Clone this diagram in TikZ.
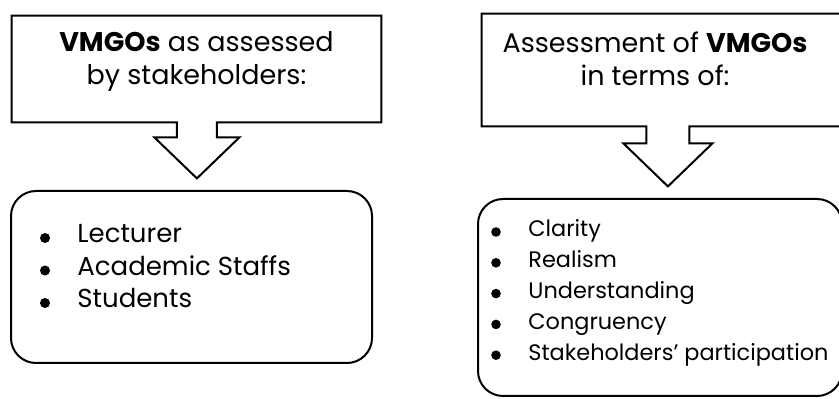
\documentclass[tikz,border=0pt]{standalone}
\usepackage{fontspec}
\setmainfont{Poppins}

\tikzset{
  outline/.style={draw=black, line width=1pt, line join=miter},
  frame/.style={inner sep=0pt},
  listbox/.style={draw=black, line width=1pt, rounded corners=12.5pt, inner sep=0pt},
  heading/.style={align=center, inner sep=0pt,
    font=\fontsize{13.5}{16.5}\selectfont},
  itemL/.style={anchor=base west, inner sep=0pt, font=\fontsize{13}{15}\selectfont},
  itemR/.style={anchor=base west, inner sep=0pt, font=\fontsize{11.2}{13}\selectfont},
}

\begin{document}
\begin{tikzpicture}[x=0.5pt, y=-0.5pt]
  \clip (0,0) rectangle (839,399);

  % stakeholders
  \node[frame, minimum width=184.5pt, minimum height=53pt] (boxL) at (196.5,69) {};
  \draw[outline] (boxL.north west) -- (boxL.north east) -- (boxL.south east)
    -- ++(-164.5,0) -- ++(0,15) -- ++(22.5,0) -- ++(-42.5,41)
    -- ++(-42.5,-41) -- ++(22.5,0) -- ++(0,-15) -- (boxL.south west) -- cycle;
  \node[heading] (headL) at (196.5,62)
    {\textbf{VMGOs} as assessed\\ by stakeholders:};
  \node[listbox, minimum width=180.5pt, minimum height=86pt] (listL) at (191.5,277) {};
  \matrix [row sep={16.25pt,between origins}, column sep={16pt,between origins},
           matrix anchor=lec.base west] at (77,243)
  {
    \fill (0,-5) circle (5); & \node[itemL] (lec) {Lecturer}; \\
    \fill (0,-5) circle (5); & \node[itemL] {Academic Staffs}; \\
    \fill (0,-5) circle (5); & \node[itemL] {Students}; \\
  };

  % criteria
  \node[frame, minimum width=185.5pt, minimum height=56pt] (boxR) at (667.5,70) {};
  \draw[outline] (boxR.north west) -- (boxR.north east) -- (boxR.south east)
    -- ++(-164,0) -- ++(0,17) -- ++(23,0) -- ++(-44.5,43)
    -- ++(-44.5,-43) -- ++(23,0) -- ++(0,-17) -- (boxR.south west) -- cycle;
  \node[heading] (headR) at (655,59)
    {Assessment of \textbf{VMGOs}\\ in terms of:};
  \node[listbox, minimum width=182pt, minimum height=98.5pt] (listR) at (660,297.5) {};
  \matrix [row sep={15.4pt,between origins}, column sep={16pt,between origins},
           matrix anchor=cla.base west] at (528,237)
  {
    \fill (0,-5) circle (4.8); & \node[itemR] (cla) {Clarity}; \\
    \fill (0,-5) circle (4.8); & \node[itemR] {Realism}; \\
    \fill (0,-5) circle (4.8); & \node[itemR] {Understanding}; \\
    \fill (0,-5) circle (4.8); & \node[itemR] {Congruency}; \\
    \fill (0,-5) circle (4.8); & \node[itemR] {Stakeholders' participation}; \\
  };
\end{tikzpicture}
\end{document}
